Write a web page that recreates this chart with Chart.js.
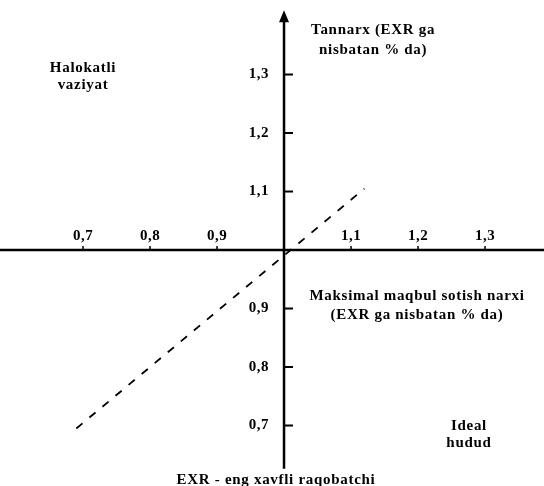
<!DOCTYPE html>
<html><head><meta charset="utf-8">
<script src="https://cdn.jsdelivr.net/npm/chart.js@4"></script>
<style>html,body{margin:0;padding:0;background:#fff}#wrap{width:544px;height:486px}</style>
</head><body><div id="wrap"><canvas id="c" width="544" height="486"></canvas></div>
<script>
// ---- data ----
const xTickValues = [0.7, 0.8, 0.9, 1.1, 1.2, 1.3];
const xTickLabels = ['0,7', '0,8', '0,9', '1,1', '1,2', '1,3'];
const yTickValues = [1.3, 1.2, 1.1, 0.9, 0.8, 0.7];
const yTickLabels = ['1,3', '1,2', '1,1', '0,9', '0,8', '0,7'];
const lineX = [0.69, 1.12];
const lineY = [0.695, 1.105];
const textHalokatli = ['Halokatli', 'vaziyat'];
const textTannarx = ['Tannarx (EXR ga', 'nisbatan % da)'];
const textMaksimal = ['Maksimal maqbul sotish narxi', '(EXR ga nisbatan % da)'];
const textIdeal = ['Ideal', 'hudud'];
const textFooter = ['EXR - eng xavfli raqobatchi'];

// ---- layout (data coordinates) ----
const blocks = [
  {lines: textHalokatli, x: 0.700, y: [1.311, 1.282]},
  {lines: textTannarx, x: 1.133, y: [1.376, 1.342]},
  {lines: textMaksimal, x: 1.1985, y: [0.922, 0.889]},
  {lines: textIdeal, x: 1.276, y: [0.699, 0.670]},
  {lines: textFooter, x: 0.988, y: [0.607]}
];
const FONT = 'bold 15px "Liberation Serif", "DejaVu Serif", serif';
const TICKFONT = 'bold 15px "Liberation Serif", "DejaVu Serif", serif';

const axesPlugin = {
  id: 'axesPlugin',
  afterDatasetsDraw(chart) {
    const ctx = chart.ctx, xs = chart.scales.x, ys = chart.scales.y;
    const ox = xs.getPixelForValue(1), oy = ys.getPixelForValue(1);
    ctx.save();
    ctx.strokeStyle = '#000'; ctx.fillStyle = '#000';
    // horizontal axis
    ctx.lineWidth = 2.5;
    ctx.beginPath(); ctx.moveTo(chart.chartArea.left, oy); ctx.lineTo(chart.chartArea.right, oy); ctx.stroke();
    // vertical axis
    const top = ys.getPixelForValue(1.39), bot = ys.getPixelForValue(0.626);
    ctx.beginPath(); ctx.moveTo(ox, top); ctx.lineTo(ox, bot); ctx.stroke();
    // arrow
    const tip = ys.getPixelForValue(1.41);
    ctx.beginPath(); ctx.moveTo(ox, tip); ctx.lineTo(ox - 5, tip + 12); ctx.lineTo(ox + 5, tip + 12); ctx.closePath(); ctx.fill();
    // x ticks
    ctx.font = TICKFONT; ctx.textAlign = 'center'; ctx.textBaseline = 'middle';
    ctx.letterSpacing = '0.5px';
    ctx.lineWidth = 1.5;
    xTickValues.forEach((v, i) => {
      const px = xs.getPixelForValue(v);
      ctx.beginPath(); ctx.moveTo(px, oy); ctx.lineTo(px, oy - 4); ctx.stroke();
      ctx.fillText(xTickLabels[i], px, oy - 14);
    });
    // y ticks
    ctx.textAlign = 'right'; ctx.lineWidth = 2;
    yTickValues.forEach((v, i) => {
      const py = ys.getPixelForValue(v);
      ctx.beginPath(); ctx.moveTo(ox, py); ctx.lineTo(ox + 9, py); ctx.stroke();
      ctx.fillText(yTickLabels[i], ox - 15, py);
    });
    // text blocks
    ctx.font = FONT; ctx.textAlign = 'center';
    ctx.letterSpacing = '0.7px';
    blocks.forEach(b => {
      b.lines.forEach((t, j) => {
        ctx.fillText(t, xs.getPixelForValue(b.x), ys.getPixelForValue(b.y[j]));
      });
    });
    ctx.restore();
  }
};

new Chart(document.getElementById('c'), {
  type: 'scatter',
  data: {
    datasets: [{
      data: lineX.map((x, i) => ({x: x, y: lineY[i]})),
      showLine: true,
      borderColor: '#000',
      borderWidth: 1.8,
      borderDash: [8, 9],
      pointRadius: 0,
      fill: false
    }]
  },
  options: {
    responsive: false,
    animation: false,
    layout: {padding: 0},
    plugins: {legend: {display: false}, tooltip: {enabled: false}},
    scales: {
      x: {type: 'linear', display: false, min: 0.5761, max: 1.388},
      y: {type: 'linear', display: false, min: 0.5966, max: 1.4274}
    }
  },
  plugins: [axesPlugin]
});
</script>
</body></html>
